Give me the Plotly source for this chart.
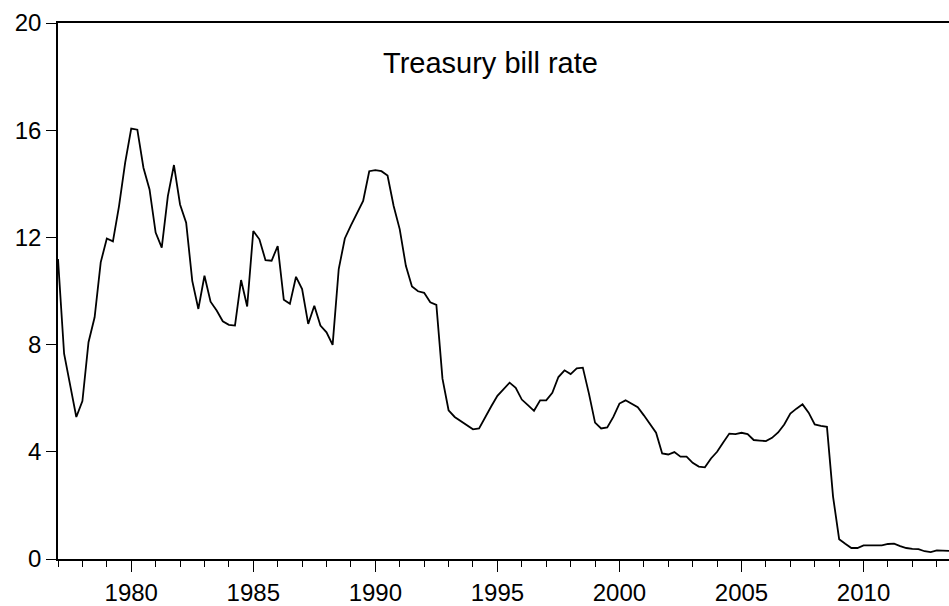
import plotly.graph_objects as go

start_year = 1977
title_text = "Treasury bill rate"
rate = [
    11.19, 7.66, 6.48, 5.30, 5.89, 8.09, 9.02, 11.07, 11.96, 11.85,
    13.17, 14.78, 16.06, 16.02, 14.60, 13.79, 12.18, 11.62, 13.54, 14.70,
    13.23, 12.55, 10.38, 9.33, 10.57, 9.60, 9.27, 8.87, 8.74, 8.71,
    10.41, 9.42, 12.24, 11.93, 11.15, 11.13, 11.68, 9.67, 9.52, 10.53,
    10.07, 8.77, 9.45, 8.71, 8.46, 7.99, 10.82, 11.96, 12.45, 12.90,
    13.36, 14.47, 14.51, 14.47, 14.31, 13.17, 12.30, 10.94, 10.17, 9.99,
    9.93, 9.58, 9.48, 6.73, 5.55, 5.30, 5.14, 4.99, 4.84, 4.87,
    5.30, 5.70, 6.09, 6.32, 6.58, 6.39, 5.95, 5.74, 5.53, 5.92,
    5.92, 6.20, 6.79, 7.04, 6.90, 7.11, 7.14, 6.17, 5.09, 4.87,
    4.91, 5.30, 5.80, 5.92, 5.80, 5.66, 5.36, 5.03, 4.71, 3.94,
    3.90, 3.99, 3.82, 3.82, 3.59, 3.45, 3.42, 3.75, 4.00, 4.35,
    4.68, 4.66, 4.71, 4.66, 4.44, 4.42, 4.40, 4.52, 4.72, 5.02,
    5.43, 5.61, 5.77, 5.46, 5.02, 4.97, 4.93, 2.33, 0.74, 0.57,
    0.41, 0.41, 0.51, 0.51, 0.51, 0.51, 0.56, 0.57, 0.48, 0.41,
    0.38, 0.37, 0.29, 0.26, 0.32, 0.32, 0.30,
]
quarters = [start_year + i / 4 for i in range(len(rate))]
y_ticks = [0, 4, 8, 12, 16, 20]

font_family = "Liberation Sans, Arial, sans-serif"

fig = go.Figure()
fig.add_trace(go.Scatter(
    x=quarters, y=rate, mode="lines",
    line=dict(color="black", width=1.8),
    showlegend=False, hoverinfo="skip",
))

fig.add_annotation(
    x=1994.7, y=18.5, xref="x", yref="y",
    text=title_text, showarrow=False,
    font=dict(family=font_family, size=29, color="black"),
)

fig.update_layout(
    width=949, height=606,
    margin=dict(l=58, r=0, t=23, b=45),
    paper_bgcolor="white", plot_bgcolor="white",
    font=dict(family=font_family, size=24, color="black"),
)
fig.update_xaxes(
    range=[1977, 2013.5],
    tickmode="linear", tick0=1980, dtick=5,
    ticks="outside", ticklen=11, tickwidth=1.3, tickcolor="black",
    minor=dict(tickmode="linear", tick0=1977, dtick=1, ticks="outside",
               ticklen=6, tickwidth=1.3, tickcolor="black", showgrid=False),
    showline=True, linecolor="black", linewidth=1.5, mirror=True,
    showgrid=False, zeroline=False,
    tickfont=dict(family=font_family, size=24, color="black"),
)
fig.update_yaxes(
    range=[0, 20],
    tickmode="array", tickvals=y_ticks,
    ticks="outside", ticklen=10, tickwidth=1.3, tickcolor="black",
    showline=True, linecolor="black", linewidth=1.5, mirror=False,
    showgrid=False, zeroline=False,
    tickfont=dict(family=font_family, size=24, color="black"),
)

fig.write_html(
    "out.html",
    config={"displayModeBar": False},
    post_script="document.body.style.margin='0';document.body.style.overflow='hidden';",
)
